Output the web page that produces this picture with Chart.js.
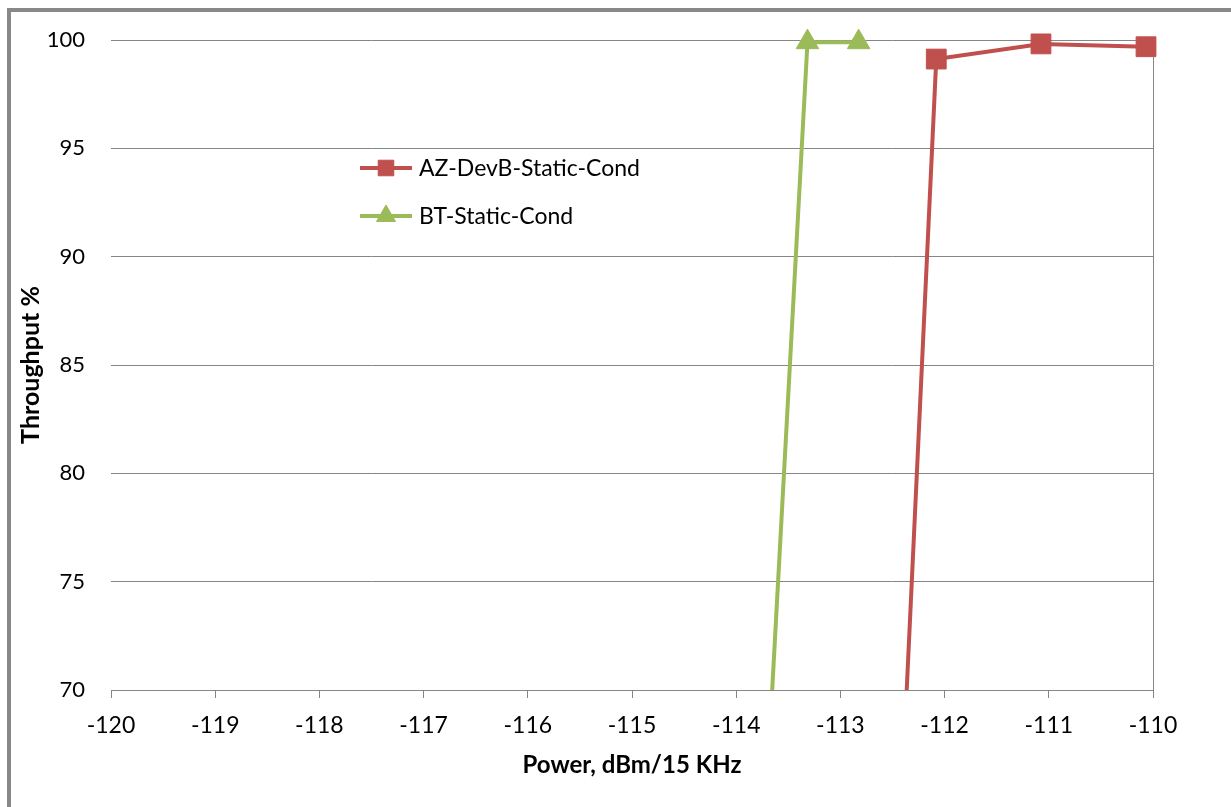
<!DOCTYPE html>
<html><head><meta charset="utf-8">
<script src="https://cdn.jsdelivr.net/npm/chart.js@4/dist/chart.umd.min.js"></script>
<style>html,body{margin:0;padding:0;background:#fff}#wrap{width:1231px;height:807px;position:relative}</style>
</head><body><div id="wrap"><canvas id="c" width="1231" height="807"></canvas></div>
<script>
const seriesNames = ['AZ-DevB-Static-Cond', 'BT-Static-Cond'];
const azPower = [-112.5, -112.08, -111.075, -110.067];
const azThroughput = [56, 99.12, 99.82, 99.69];
const btPower = [-114, -113.316, -112.825];
const btThroughput = [39.5, 99.9, 99.9];
const xTickValues = [-120, -119, -118, -117, -116, -115, -114, -113, -112, -111, -110];
const yTickValues = [70, 75, 80, 85, 90, 95, 100];
const xTitle = 'Power, dBm/15 KHz';
const yTitle = 'Throughput %';

const RED = '#C0504D', GREEN = '#9BBB59', GRID = '#868686';
const FONT = 'Lato, "Open Sans", sans-serif';

const framePlugin = {
  id: 'frame',
  beforeDraw(chart) {
    const ctx = chart.ctx;
    ctx.save();
    ctx.fillStyle = '#fff';
    ctx.fillRect(0, 0, chart.width, chart.height);
    ctx.fillStyle = '#888888';
    ctx.fillRect(8, 8, chart.width - 8, 4);
    ctx.fillRect(7, 8, 4, chart.height - 8);
    ctx.restore();
  }
};

const legendPlugin = {
  id: 'insideLegend',
  afterDraw(chart) {
    const ctx = chart.ctx;
    const rows = [168, 216];
    const radii = [11, 11];
    chart.data.datasets.forEach((ds, i) => {
      const y = rows[i];
      ctx.save();
      ctx.strokeStyle = ds.borderColor;
      ctx.lineWidth = 4;
      ctx.beginPath();
      ctx.moveTo(360, y);
      ctx.lineTo(412, y);
      ctx.stroke();
      ctx.fillStyle = ds.backgroundColor;
      ctx.strokeStyle = ds.borderColor;
      ctx.lineWidth = 1;
      Chart.helpers.drawPoint(ctx, {pointStyle: ds.pointStyle, radius: radii[i], borderWidth: 1, rotation: 0}, 386, y);
      ctx.fillStyle = '#000';
      ctx.font = '23px ' + FONT;
      ctx.textBaseline = 'middle';
      ctx.textAlign = 'left';
      ctx.fillText(ds.label, 419, y + 1);
      ctx.restore();
    });
  }
};

const clipArea = {left: 30, top: 30, right: 30, bottom: 0};

new Chart(document.getElementById('c'), {
  type: 'line',
  data: {
    datasets: [
      {
        label: seriesNames[0],
        data: azPower.map((x, i) => ({x: x, y: azThroughput[i]})),
        borderColor: RED, backgroundColor: RED, borderWidth: 4,
        pointStyle: 'rect', pointRadius: 14, pointHoverRadius: 14, pointBorderWidth: 1,
        pointBackgroundColor: RED, pointBorderColor: RED,
        tension: 0, clip: clipArea
      },
      {
        label: seriesNames[1],
        data: btPower.map((x, i) => ({x: x, y: btThroughput[i]})),
        borderColor: GREEN, backgroundColor: GREEN, borderWidth: 4,
        pointStyle: 'triangle', pointRadius: 13, pointHoverRadius: 13, pointBorderWidth: 1,
        pointBackgroundColor: GREEN, pointBorderColor: GREEN,
        tension: 0, clip: clipArea
      }
    ]
  },
  options: {
    responsive: false,
    animation: false,
    devicePixelRatio: 1,
    layout: {padding: {top: 40, right: 78, bottom: 0, left: 0}},
    plugins: {legend: {display: false}, tooltip: {enabled: false}},
    scales: {
      x: {
        type: 'linear', position: 'bottom', min: -120, max: -110,
        afterBuildTicks: s => { s.ticks = xTickValues.map(v => ({value: v})); },
        afterFit: s => { s.height = 117; },
        ticks: {color: '#000', font: {family: FONT, size: 23}, padding: 14, autoSkip: false, maxRotation: 0,
                callback: v => String(v)},
        grid: {display: true, drawOnChartArea: false, drawTicks: true, tickLength: 8, color: GRID, lineWidth: 1},
        border: {display: true, color: GRID, width: 1},
        title: {display: true, text: xTitle, color: '#000', font: {family: FONT, size: 24, weight: 'bold'},
                padding: {top: 0, bottom: 27}}
      },
      y: {
        type: 'linear', position: 'left', min: 70, max: 100,
        afterBuildTicks: s => { s.ticks = yTickValues.map(v => ({value: v})); },
        afterFit: s => { s.width = 111; },
        ticks: {color: '#000', font: {family: FONT, size: 22}, padding: 26, callback: v => String(v)},
        grid: {color: GRID, lineWidth: 1, drawTicks: false},
        border: {display: false},
        title: {display: true, text: yTitle, color: '#000', font: {family: FONT, size: 25, weight: 'bold'},
                padding: {top: 16, bottom: 0}}
      },
      y2: {
        type: 'linear', position: 'right', min: 70, max: 100,
        afterFit: s => { s.width = 0; },
        ticks: {display: false},
        grid: {display: true, drawOnChartArea: false, drawTicks: false},
        border: {display: true, color: GRID, width: 1}
      }
    }
  },
  plugins: [framePlugin, legendPlugin]
});
</script>
</body></html>
